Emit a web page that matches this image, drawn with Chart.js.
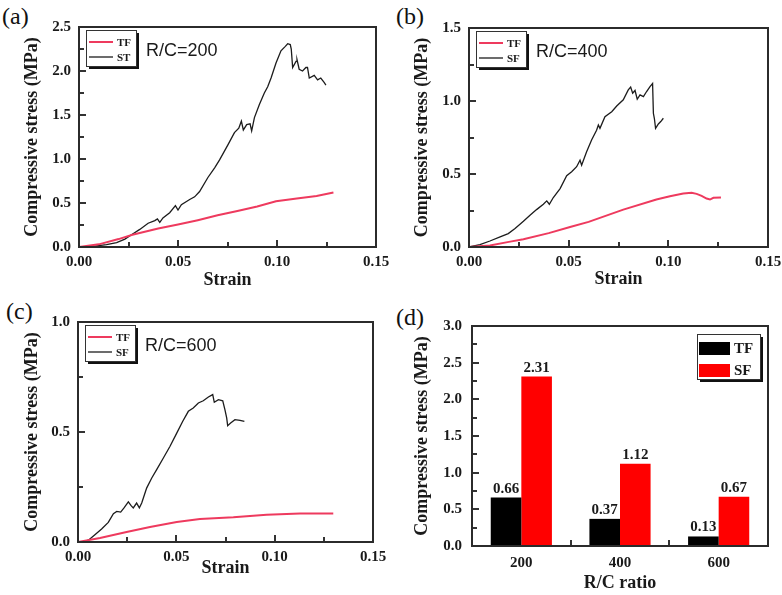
<!DOCTYPE html>
<html>
<head>
<meta charset="utf-8">
<script src="https://cdn.jsdelivr.net/npm/chart.js@4.4.1/dist/chart.umd.min.js"></script>
<style>
  body { margin: 0; background: #fff; width: 782px; height: 595px; position: relative; overflow: hidden; }
  canvas { position: absolute; }
  .tag { position: absolute; font-family: "Liberation Serif", serif; font-size: 24px; line-height: 1; color: #111; }
  .fr { position: absolute; z-index: 10; background: #333; pointer-events: none; }
  .fr.box { background: transparent; border: 2px solid #2b2b2b; box-sizing: border-box; }
</style>
</head>
<body>
<div class="tag" style="left:2px;top:4px">(a)</div>
<div class="tag" style="left:396px;top:4px">(b)</div>
<div class="tag" style="left:6px;top:299px">(c)</div>
<div class="tag" style="left:396px;top:305px">(d)</div>

<canvas id="chartA" width="390" height="292" style="left:0;top:0"></canvas>
<canvas id="chartB" width="392" height="292" style="left:390px;top:0"></canvas>
<canvas id="chartC" width="390" height="300" style="left:0;top:295px"></canvas>
<canvas id="chartD" width="392" height="300" style="left:390px;top:295px"></canvas>

<script>
// (a) R/C = 200
const strainA_TF = [0, 0.010, 0.020, 0.027, 0.040, 0.050, 0.060, 0.070, 0.080, 0.090, 0.0995, 0.110, 0.120, 0.1285];
const stressA_TF = [0, 0.03, 0.09, 0.14, 0.21, 0.255, 0.305, 0.36, 0.41, 0.46, 0.52, 0.55, 0.58, 0.62];
const strainA_ST = [0, 0.0072, 0.0139, 0.019, 0.0232, 0.0265, 0.0307, 0.0349, 0.0383, 0.0396, 0.0408, 0.0424,
  0.0458, 0.0487, 0.050, 0.0517, 0.0559, 0.0584, 0.0609, 0.0651, 0.0685, 0.071, 0.0752, 0.0785, 0.0807, 0.082,
  0.083, 0.0847, 0.0864, 0.0872, 0.0886, 0.0911, 0.0936, 0.0953, 0.097, 0.0995, 0.102, 0.1042, 0.1054, 0.1067,
  0.1072, 0.1079, 0.1096, 0.1101, 0.1112, 0.1129, 0.1146, 0.1154, 0.1163, 0.1188, 0.1205, 0.1221, 0.1238, 0.1247];
const stressA_ST = [0, 0.008, 0.027, 0.05, 0.09, 0.14, 0.20, 0.27, 0.30, 0.32, 0.28, 0.33,
  0.39, 0.47, 0.42, 0.48, 0.54, 0.57, 0.63, 0.79, 0.90, 0.99, 1.16, 1.30, 1.35, 1.43,
  1.33, 1.39, 1.40, 1.32, 1.47, 1.62, 1.75, 1.82, 1.92, 2.09, 2.23, 2.28, 2.31, 2.30,
  2.25, 2.04, 2.11, 2.13, 2.02, 2.00, 2.04, 2.04, 1.92, 1.95, 1.90, 1.92, 1.87, 1.84];

// (b) R/C = 400
const strainB_TF = [0, 0.0105, 0.020, 0.0273, 0.040, 0.0507, 0.060, 0.0774, 0.094, 0.1008, 0.1075, 0.1117,
  0.1142, 0.1167, 0.1192, 0.1209, 0.1226, 0.1264];
const stressB_TF = [0, 0.011, 0.035, 0.053, 0.095, 0.137, 0.172, 0.256, 0.325, 0.348, 0.366, 0.371,
  0.364, 0.35, 0.332, 0.325, 0.337, 0.339];
const strainB_SF = [0, 0.0055, 0.0105, 0.0156, 0.0197, 0.0231, 0.0273, 0.0306, 0.0339, 0.0373, 0.039, 0.0403,
  0.0423, 0.0457, 0.049, 0.0515, 0.054, 0.0557, 0.0565, 0.059, 0.0615, 0.064, 0.0649, 0.0657, 0.0682, 0.0716,
  0.0741, 0.0774, 0.0799, 0.0811, 0.0821, 0.0833, 0.0844, 0.0858, 0.0875, 0.0891, 0.0908, 0.0921, 0.0925,
  0.093, 0.0936, 0.095, 0.0962, 0.0975];
const stressB_SF = [0, 0.016, 0.041, 0.069, 0.092, 0.126, 0.176, 0.218, 0.256, 0.293, 0.316, 0.293,
  0.339, 0.40, 0.488, 0.515, 0.55, 0.595, 0.56, 0.653, 0.733, 0.80, 0.836, 0.813, 0.893, 0.927,
  0.966, 1.008, 1.076, 1.095, 1.053, 1.072, 1.012, 1.042, 1.03, 1.065, 1.099, 1.12, 0.916,
  0.88, 0.813, 0.843, 0.859, 0.882];

// (c) R/C = 600
const strainC_TF = [0, 0.0112, 0.0247, 0.0366, 0.0502, 0.062, 0.079, 0.0959, 0.1129, 0.1298];
const stressC_TF = [0, 0.018, 0.045, 0.068, 0.091, 0.105, 0.112, 0.124, 0.129, 0.13];
const strainC_SF = [0, 0.0027, 0.0053, 0.0086, 0.012, 0.0154, 0.018, 0.0197, 0.0217, 0.0234, 0.0256, 0.027,
  0.0281, 0.0298, 0.0312, 0.0324, 0.0349, 0.0375, 0.040, 0.0434, 0.0468, 0.0502, 0.0532, 0.0561, 0.0586,
  0.0612, 0.0637, 0.0663, 0.0685, 0.0693, 0.0714, 0.0736, 0.0747, 0.0756, 0.0761, 0.0776, 0.0798, 0.0824, 0.0846];
const stressC_SF = [0, 0.002, 0.008, 0.033, 0.059, 0.089, 0.129, 0.139, 0.136, 0.155, 0.182, 0.165,
  0.155, 0.177, 0.155, 0.177, 0.245, 0.291, 0.329, 0.382, 0.435, 0.495, 0.548, 0.594, 0.609,
  0.632, 0.642, 0.659, 0.67, 0.635, 0.647, 0.642, 0.602, 0.564, 0.529, 0.541, 0.556, 0.553, 0.548];

// (d) peak stress per R/C ratio
const ratios = ['200', '400', '600'];
const peakTF = [0.66, 0.37, 0.13];
const peakSF = [2.31, 1.12, 0.67];

const strainTicks = [0, 0.05, 0.10, 0.15];

const RED_LINE = '#ee3a5e';
const RED_BAR = '#ff0000';
const DARK = '#1c1c1c';

Chart.defaults.font.family = '"Liberation Serif", serif';
Chart.defaults.color = '#1a1a1a';

function pts(xs, ys) {
  return xs.map((x, i) => ({ x: x, y: ys[i] }));
}

// boxed legend with drop shadow, R/C note, numbers on top of bars
const decor = {
  id: 'decor',
  afterDraw(chart, args, o) {
    const ctx = chart.ctx;
    const a = chart.chartArea;
    ctx.save();

    if (o.bars) {
      ctx.font = 'bold 15px "Liberation Serif"';
      ctx.fillStyle = '#1a1a1a';
      ctx.textAlign = 'center';
      ctx.textBaseline = 'alphabetic';
      chart.data.datasets.forEach((ds, di) => {
        chart.getDatasetMeta(di).data.forEach((bar, i) => {
          ctx.fillText(ds.data[i].toFixed(2), bar.x, bar.y - 5);
        });
      });
      ctx.textAlign = 'left';
    }

    const bx = o.bars ? a.right - o.lx : a.left + o.lx;
    const by = a.top + o.ly;
    ctx.fillStyle = '#111';
    ctx.fillRect(bx + 3, by + 3, o.lw, o.lh);
    ctx.fillStyle = '#fff';
    ctx.fillRect(bx, by, o.lw, o.lh);
    ctx.strokeStyle = '#333';
    ctx.lineWidth = 1;
    ctx.strokeRect(bx + 0.5, by + 0.5, o.lw, o.lh);
    chart.data.datasets.forEach((ds, i) => {
      const ry = by + o.rows[i];
      if (o.bars) {
        ctx.fillStyle = ds.backgroundColor;
        ctx.fillRect(bx + 2, ry - 6.5, 31, 13);
      } else {
        ctx.strokeStyle = ds.borderColor;
        ctx.lineWidth = ds.borderWidth;
        ctx.beginPath();
        ctx.moveTo(bx + 3, ry);
        ctx.lineTo(bx + 27, ry);
        ctx.stroke();
      }
      ctx.fillStyle = '#1a1a1a';
      ctx.font = 'bold ' + o.fontSize + 'px "Liberation Serif"';
      ctx.textBaseline = 'middle';
      ctx.fillText(ds.label, bx + o.textX, ry + 1);
    });

    if (o.note) {
      ctx.fillStyle = '#1a1a1a';
      ctx.font = '18px "Liberation Sans"';
      ctx.textBaseline = 'middle';
      ctx.fillText(o.note, a.left + 67, a.top + 24);
    }
    ctx.restore();
  }
};

// frame and inward ticks, placed from the chart's own area and scales
function addFrame(chart, xMinor, yMinor) {
  const cv = chart.canvas;
  const a = chart.chartArea;
  const ox = cv.offsetLeft, oy = cv.offsetTop;
  const L = Math.round(ox + a.left), T = Math.round(oy + a.top);
  const R = Math.round(ox + a.right), B = Math.round(oy + a.bottom);
  const mk = (l, t, w, h, cls) => {
    const d = document.createElement('div');
    d.className = cls || 'fr';
    d.style.left = l + 'px';
    d.style.top = t + 'px';
    d.style.width = w + 'px';
    d.style.height = h + 'px';
    document.body.appendChild(d);
  };
  mk(L - 1, T - 1, R - L + 2, B - T + 2, 'fr box');

  const ys = chart.scales.y;
  for (let k = 1; k * yMinor < ys.max - 1e-9; k++) {
    const p = Math.round(oy + ys.getPixelForValue(k * yMinor));
    mk(L + 1, p - 1, k % 2 === 0 ? 6 : 4, 2);
  }
  const xs = chart.scales.x;
  if (xMinor) {
    for (let k = 1; k * xMinor < xs.max - 1e-9; k++) {
      const p = Math.round(ox + xs.getPixelForValue(k * xMinor));
      const len = k % 2 === 0 ? 6 : 4;
      mk(p - 1, B - 1 - len, 2, len);
    }
  } else {
    for (let i = 0; i < chart.data.labels.length - 1; i++) {
      const p = Math.round(ox + (xs.getPixelForValue(i) + xs.getPixelForValue(i + 1)) / 2);
      mk(p - 1, B - 6, 2, 5);
    }
  }
}

function axisTitle(text, pad) {
  return { display: true, text: text, font: { size: 18, weight: 'bold' }, padding: pad };
}

// box: plot area in canvas px {l, t, r, b}; canvas size w, h
function makeLine(id, w, h, box, yMax, sets, note, titleBottom) {
  const chart = new Chart(document.getElementById(id), {
    type: 'line',
    data: {
      datasets: sets.map(s => ({
        label: s.label, data: s.data, borderColor: s.color, borderWidth: s.width,
        pointRadius: 0, tension: 0, fill: false
      }))
    },
    options: {
      responsive: false,
      animation: false,
      layout: { padding: { left: 0, top: box.t, right: w - box.r, bottom: 0 } },
      plugins: {
        legend: { display: false },
        tooltip: { enabled: false },
        decor: { lx: 7, ly: 3, lw: 50, lh: 36, rows: [12, 27], textX: 31, fontSize: 11, note: note }
      },
      scales: {
        x: {
          type: 'linear', min: 0, max: 0.15,
          afterBuildTicks: s => { s.ticks = strainTicks.map(v => ({ value: v })); },
          afterFit: s => { s.height = h - box.b; s.paddingLeft = 0; s.paddingRight = 0; },
          grid: { display: false, drawTicks: false },
          border: { display: false },
          ticks: { font: { size: 15, weight: 'bold' }, padding: 6, callback: v => v.toFixed(2) },
          title: axisTitle('Strain', { top: 0, bottom: titleBottom })
        },
        y: {
          min: 0, max: yMax,
          ticks: { stepSize: 0.5, font: { size: 15, weight: 'bold' }, padding: 8, callback: v => v.toFixed(1) },
          afterFit: s => { s.width = box.l; },
          grid: { display: false, drawTicks: false },
          border: { display: false },
          title: axisTitle('Compressive stress (MPa)', { top: 22, bottom: 0 })
        }
      }
    },
    plugins: [decor]
  });
  addFrame(chart, 0.025, 0.25);
}

makeLine('chartA', 390, 292, { l: 79, t: 27, r: 376, b: 247 }, 2.5, [
  { label: 'TF', data: pts(strainA_TF, stressA_TF), color: RED_LINE, width: 2 },
  { label: 'ST', data: pts(strainA_ST, stressA_ST), color: DARK, width: 1.3 }
], 'R/C=200', 1);

makeLine('chartB', 392, 292, { l: 79, t: 28, r: 378, b: 247 }, 1.5, [
  { label: 'TF', data: pts(strainB_TF, stressB_TF), color: RED_LINE, width: 2 },
  { label: 'SF', data: pts(strainB_SF, stressB_SF), color: DARK, width: 1.3 }
], 'R/C=400', 2);

makeLine('chartC', 390, 300, { l: 78, t: 27, r: 373, b: 247 }, 1.0, [
  { label: 'TF', data: pts(strainC_TF, stressC_TF), color: RED_LINE, width: 2 },
  { label: 'SF', data: pts(strainC_SF, stressC_SF), color: DARK, width: 1.3 }
], 'R/C=600', 16);

const chartD = new Chart(document.getElementById('chartD'), {
  type: 'bar',
  data: {
    labels: ratios,
    datasets: [
      { label: 'TF', data: peakTF, backgroundColor: '#000000' },
      { label: 'SF', data: peakSF, backgroundColor: RED_BAR }
    ]
  },
  options: {
    responsive: false,
    animation: false,
    layout: { padding: { left: 0, top: 31, right: 392 - 378, bottom: 0 } },
    datasets: { bar: { categoryPercentage: 0.62, barPercentage: 1.0 } },
    plugins: {
      legend: { display: false },
      tooltip: { enabled: false },
      decor: { bars: true, lx: 71, ly: 8, lw: 63, lh: 45, rows: [14.5, 36.5], textX: 37, fontSize: 15 }
    },
    scales: {
      x: {
        afterFit: s => { s.height = 300 - 251; s.paddingLeft = 0; s.paddingRight = 0; },
        grid: { display: false, drawTicks: false },
        border: { display: false },
        ticks: { font: { size: 15, weight: 'bold' }, padding: 8 },
        title: axisTitle('R/C ratio', { top: 0, bottom: 1 })
      },
      y: {
        min: 0, max: 3.0,
        ticks: { stepSize: 0.5, font: { size: 15, weight: 'bold' }, padding: 10, callback: v => v.toFixed(1) },
        afterFit: s => { s.width = 82; },
        grid: { display: false, drawTicks: false },
        border: { display: false },
        title: axisTitle('Compressive stress (MPa)', { top: 22, bottom: 0 })
      }
    }
  },
  plugins: [decor]
});
addFrame(chartD, 0, 0.25);
</script>
</body>
</html>
